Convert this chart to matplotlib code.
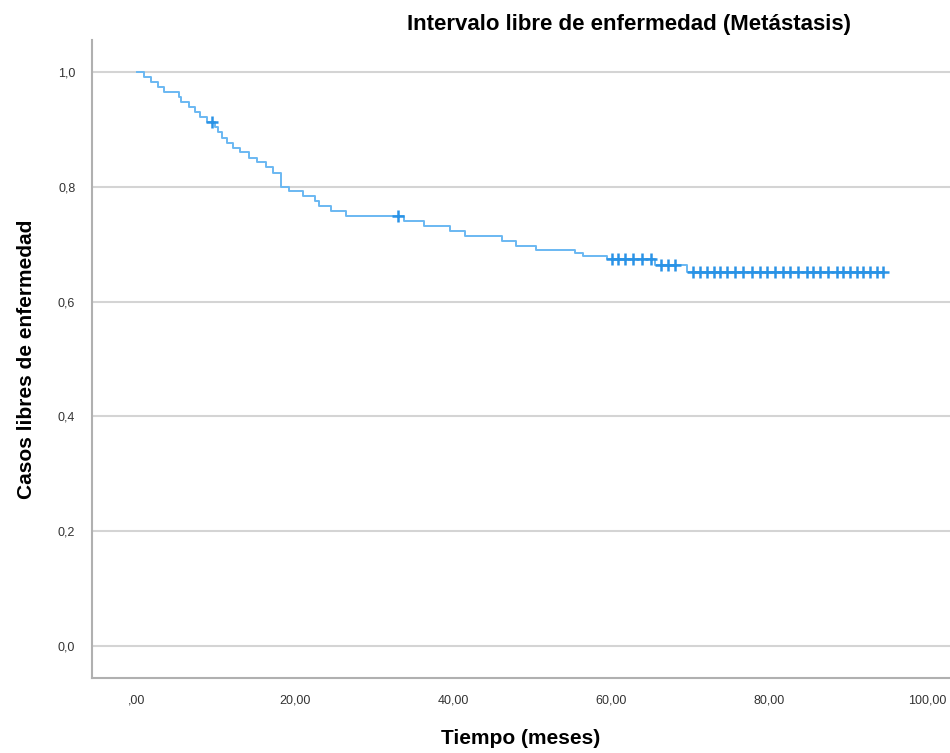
import numpy as np
import matplotlib.pyplot as plt

# Kaplan-Meier estimate: time (months) at which the curve steps, and the value after the step
step_t = [0.0, 0.9, 1.8, 2.6, 3.4, 5.3, 5.6, 6.6, 7.3, 8.0, 8.8, 9.9, 10.3, 10.8,
          11.4, 12.2, 13.0, 14.2, 15.2, 16.3, 17.2, 18.2, 19.3, 21.0, 22.5, 23.0,
          24.5, 26.5, 33.8, 36.3, 39.6, 41.5, 46.2, 48.0, 50.5, 55.5, 56.5, 59.5,
          65.5, 69.6]
step_s = [1.000, 0.991, 0.983, 0.974, 0.966, 0.957, 0.948, 0.939, 0.930, 0.922,
          0.913, 0.904, 0.895, 0.886, 0.877, 0.868, 0.860, 0.851, 0.843, 0.834,
          0.825, 0.800, 0.792, 0.784, 0.775, 0.766, 0.758, 0.749, 0.740, 0.731,
          0.723, 0.714, 0.705, 0.697, 0.690, 0.684, 0.679, 0.675, 0.664, 0.652]
end_t = 94.6

# censored cases
cens_t = [9.5, 33.0, 60.1, 60.9, 61.8, 62.8, 63.9, 65.0, 66.3, 67.2, 68.1,
          70.4, 71.3, 72.2, 73.0, 73.8, 74.7, 75.7, 76.7, 77.8, 78.9, 79.7,
          80.8, 81.8, 82.7, 83.7, 84.8, 85.6, 86.5, 87.5, 88.6, 89.4, 90.3,
          91.1, 91.9, 92.8, 93.7, 94.4]

y_ticks = [0.0, 0.2, 0.4, 0.6, 0.8, 1.0]
y_labels = ['0,0', '0,2', '0,4', '0,6', '0,8', '1,0']
x_ticks = [0, 20, 40, 60, 80, 100]
x_labels = [',00', '20,00', '40,00', '60,00', '80,00', '100,00']

plt.rcParams['font.family'] = ['Liberation Sans', 'DejaVu Sans']

fig = plt.figure(figsize=(9.5, 7.53), dpi=100)
ax = fig.add_axes([0.0968, 0.0996, 0.9032, 0.8473])

for y in y_ticks:
    ax.axhline(y, color='#d4d4d4', lw=1.5, zorder=0)

t = np.array(step_t + [end_t])
s = np.array(step_s + [step_s[-1]])
ax.step(t, s, where='post', color='#6ab8f2', lw=1.4, zorder=2)

idx = np.searchsorted(step_t, cens_t, side='right') - 1
cens_s = np.array(step_s)[idx]
ax.plot(cens_t, cens_s, ls='none', marker='+', ms=9, mew=1.8, color='#2a93e6', zorder=3)

ax.set_xlim(-5.7, 102.9)
ax.set_ylim(-0.056, 1.056)
ax.set_xticks(x_ticks)
ax.set_xticklabels(x_labels)
ax.set_yticks(y_ticks)
ax.set_yticklabels(y_labels)
ax.tick_params(length=0, labelsize=9, colors='#333333', pad=12)
ax.tick_params(axis='y', pad=12)

for side in ['top', 'right']:
    ax.spines[side].set_visible(False)
for side in ['left', 'bottom']:
    ax.spines[side].set_color('#b0b0b0')
    ax.spines[side].set_linewidth(1.5)

ax.set_xlabel('Tiempo (meses)', fontsize=15, fontweight='bold', labelpad=16)
ax.set_ylabel('Casos libres de enfermedad', fontsize=15, fontweight='bold', labelpad=16)
fig.text(0.662, 0.967, 'Intervalo libre de enfermedad (Metástasis)',
         ha='center', va='center', fontsize=16, fontweight='bold')

fig.savefig('out.png', dpi=100)
